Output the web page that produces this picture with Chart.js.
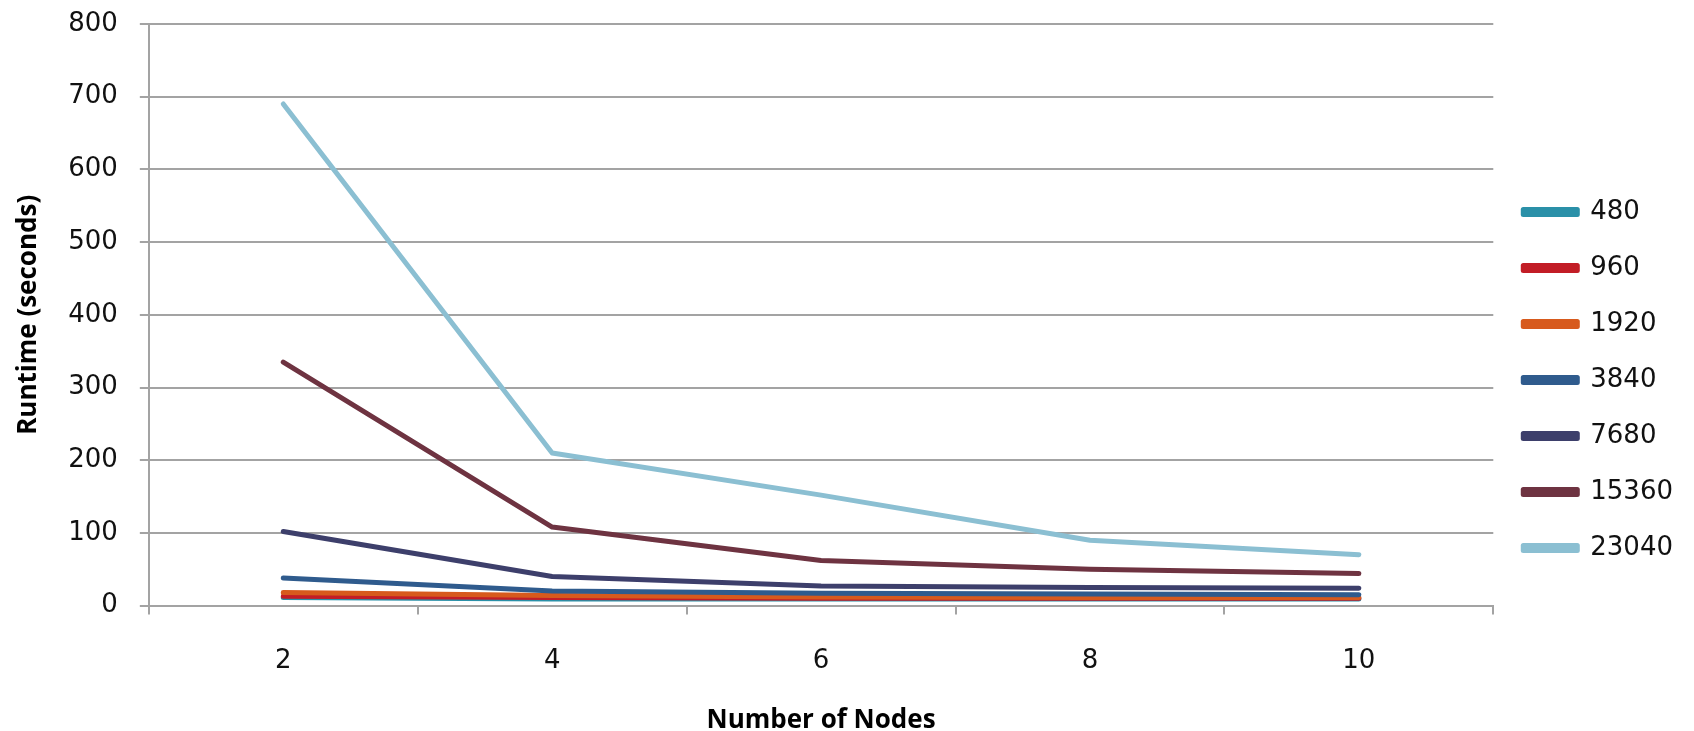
<!DOCTYPE html>
<html>
<head>
<meta charset="utf-8">
<script src="https://cdn.jsdelivr.net/npm/chart.js@4/dist/chart.umd.min.js"></script>
<style>
    html, body { margin: 0; padding: 0; background: #fff; }
    #wrap { width: 1694px; height: 731px; position: relative; }
</style>
</head>
<body>
<div id="wrap"><canvas id="runtimeChart"></canvas></div>
<script>
// Data
const nodes = ['2', '4', '6', '8', '10'];
const seriesNames = ['480', '960', '1920', '3840', '7680', '15360', '23040'];
const s480 = [11, 9, 9, 9, 9];
const s960 = [13, 11, 10, 10, 10];
const s1920 = [18, 14, 12, 11, 11];
const s3840 = [38, 20, 17, 16, 15];
const s7680 = [102, 40, 27, 25, 24];
const s15360 = [335, 108, 62, 50, 44];
const s23040 = [690, 210, 152, 90, 70];
const yTicks = [0, 100, 200, 300, 400, 500, 600, 700, 800];

const seriesValues = [s480, s960, s1920, s3840, s7680, s15360, s23040];
const colors = ['#2a90a8', '#c21d26', '#d75a1d', '#2f5b8d', '#3d3f6b', '#6e3341', '#8bbfd2'];

const tickFont = { family: '"DejaVu Sans", sans-serif', size: 26 };
const titleFamily = '"Open Sans", sans-serif';
const gridColor = '#a3a3a3';

const datasets = seriesNames.map(function(name, i) {
    return {
        label: name,
        data: seriesValues[i],
        borderColor: colors[i],
        backgroundColor: colors[i],
        borderWidth: 5,
        pointRadius: 0,
        tension: 0,
        borderCapStyle: 'round',
        borderJoinStyle: 'round',
        // later series drawn on top, like the original
        order: seriesNames.length - 1 - i
    };
});

const runtimeChart = new Chart(document.getElementById('runtimeChart'), {
    type: 'line',
    data: {
        labels: nodes,
        datasets: datasets
    },
    options: {
        responsive: true,
        maintainAspectRatio: false,
        animation: false,
        layout: {
            padding: { top: 24, right: 11, left: 13, bottom: -5 }
        },
        plugins: {
            tooltip: { enabled: false },
            legend: {
                position: 'right',
                align: 'center',
                labels: {
                    font: tickFont,
                    color: '#111',
                    boxWidth: 54,
                    boxHeight: 5,
                    padding: 30,
                    sort: function(a, b) { return a.datasetIndex - b.datasetIndex; }
                }
            }
        },
        scales: {
            x: {
                type: 'category',
                offset: true,
                grid: {
                    offset: true,
                    drawOnChartArea: false,
                    color: gridColor,
                    lineWidth: 2,
                    tickLength: 9
                },
                border: { color: gridColor, width: 2 },
                ticks: {
                    font: tickFont,
                    color: '#111',
                    padding: 31
                },
                title: {
                    display: true,
                    text: 'Number of Nodes',
                    font: { family: titleFamily, size: 26, weight: 'bold' },
                    color: '#000',
                    padding: { top: -3, bottom: 0 }
                }
            },
            y: {
                min: yTicks[0],
                max: yTicks[yTicks.length - 1],
                afterBuildTicks: function(axis) {
                    axis.ticks = yTicks.map(function(v) { return { value: v }; });
                },
                // the top label may hang over the plot edge, like the original
                afterFit: function(axis) {
                    axis.paddingTop = 0;
                    axis.paddingBottom = 0;
                },
                grid: {
                    color: gridColor,
                    lineWidth: 2,
                    tickLength: 9
                },
                border: { color: gridColor, width: 2 },
                ticks: {
                    font: tickFont,
                    color: '#111',
                    padding: 22
                },
                title: {
                    display: true,
                    text: 'Runtime (seconds)',
                    font: { family: titleFamily, size: 26, weight: 'bold' },
                    color: '#000',
                    padding: { top: 0, bottom: 2 }
                }
            }
        }
    }
});
</script>
</body>
</html>
